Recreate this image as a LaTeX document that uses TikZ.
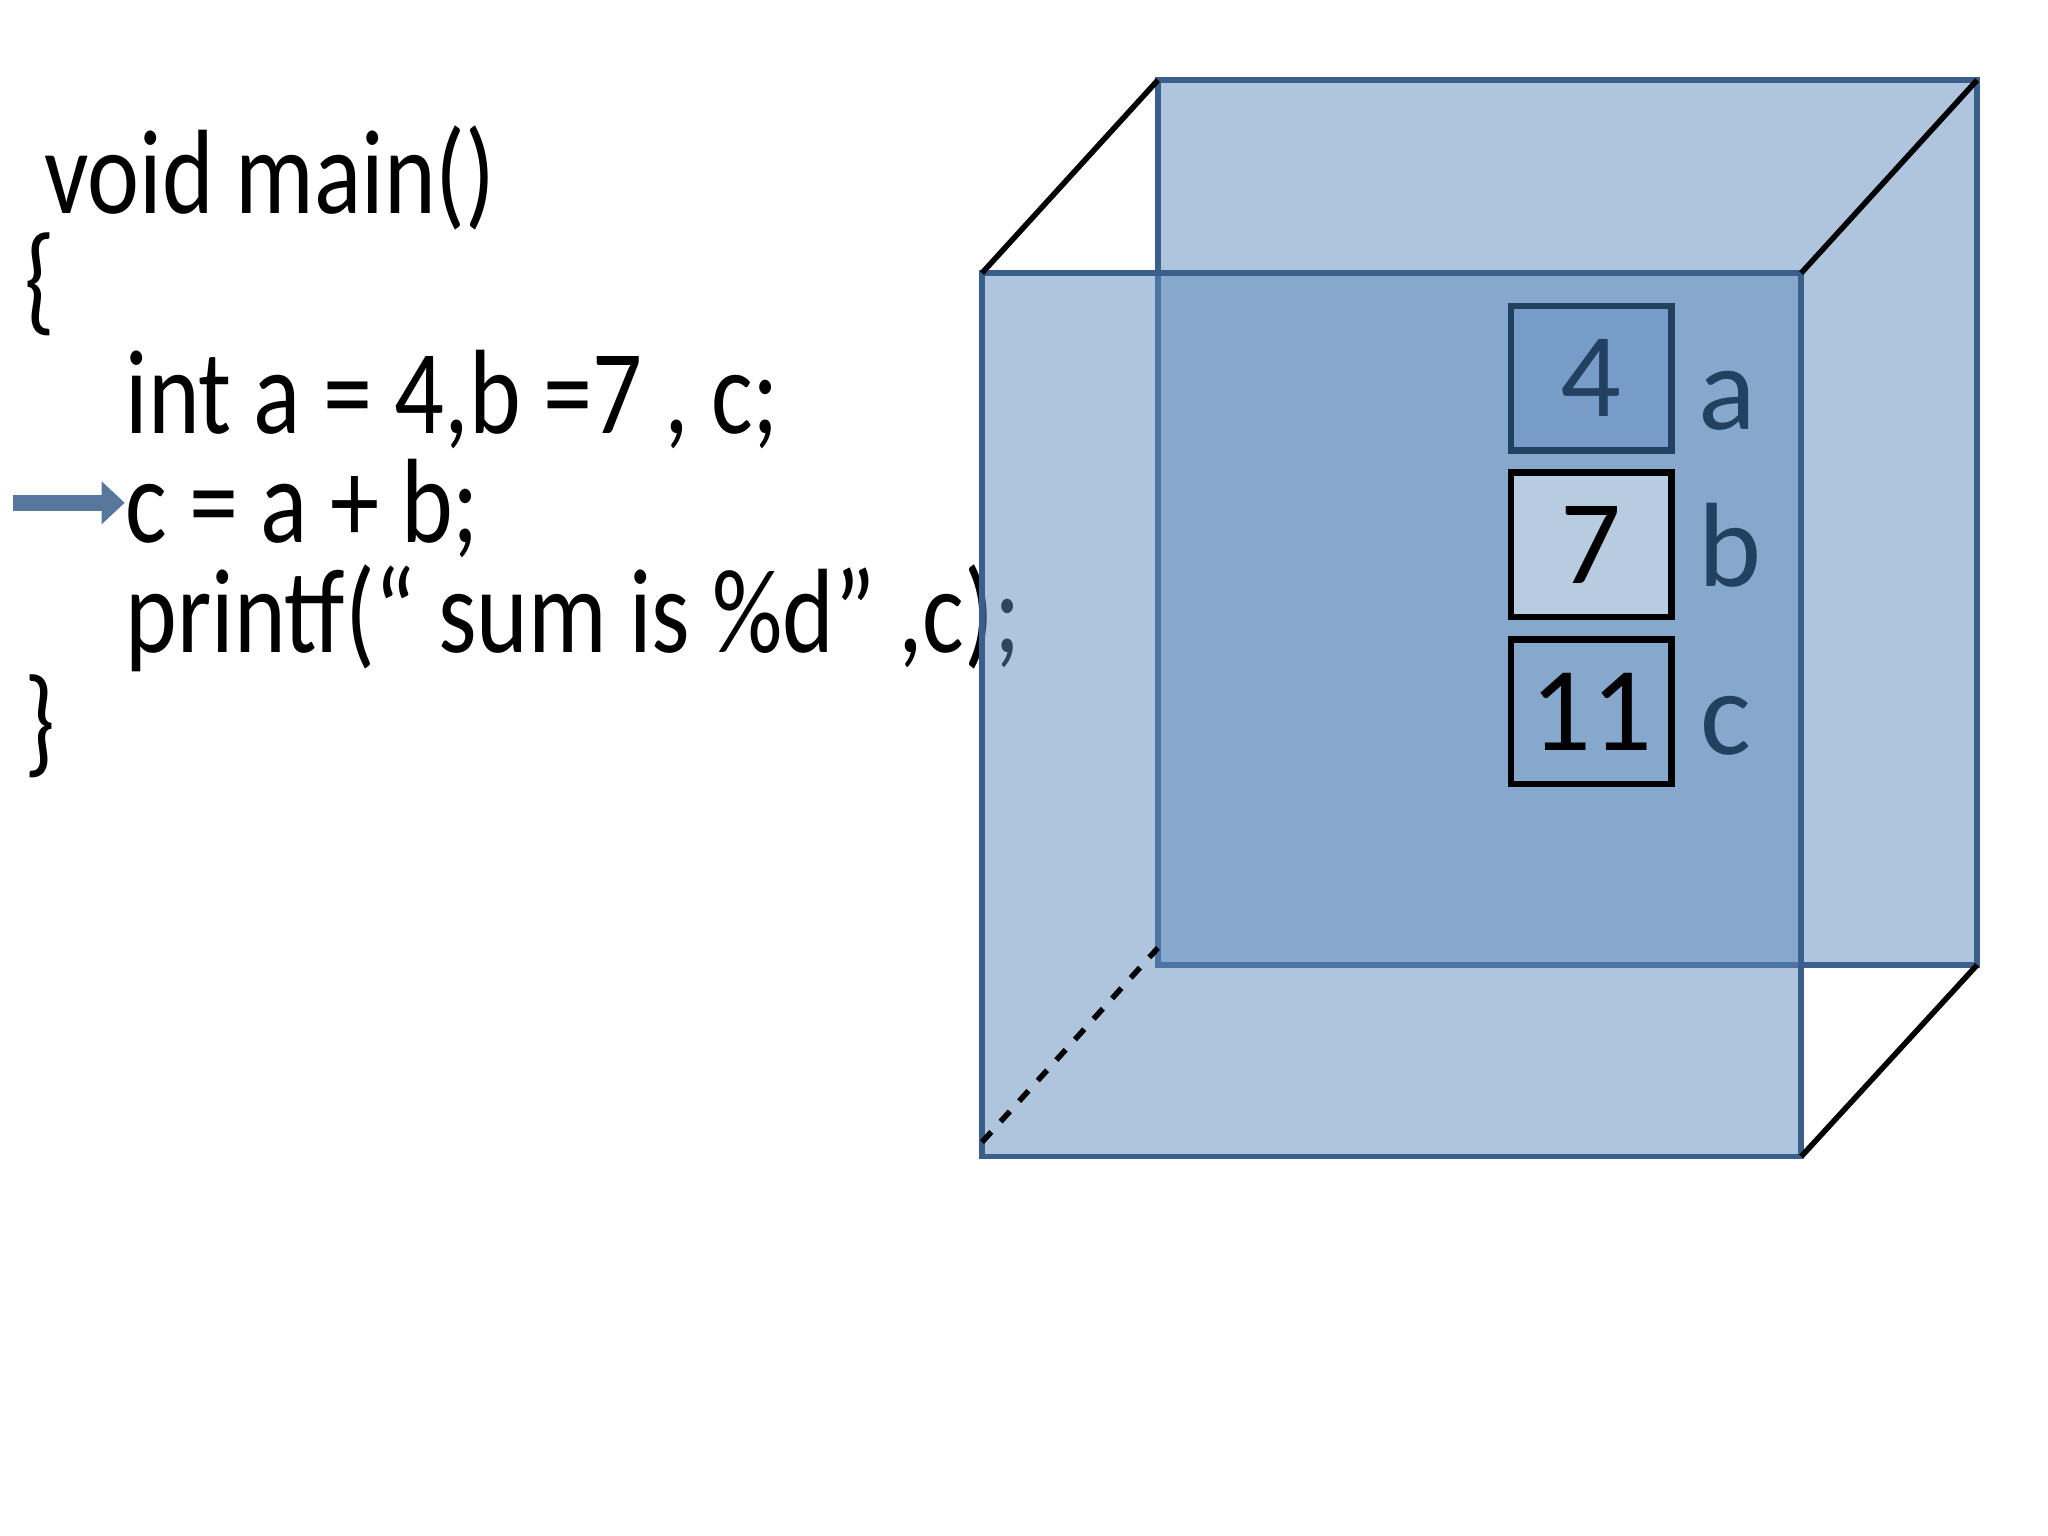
\documentclass[tikz,border=0pt]{standalone}
\usepackage{fontspec}
\setmainfont{Carlito}
\usetikzlibrary{arrows.meta}
\definecolor{boxblue}{HTML}{5F8BBD}
\definecolor{edgeblue}{HTML}{3A5F8A}
\definecolor{inkblue}{HTML}{22405F}

\begin{document}
\begin{tikzpicture}[x=0.01cm, y=-0.01cm,
  code/.style={anchor=base west, inner sep=0pt, xscale=0.82, font=\fontsize{26}{30}\selectfont},
  face/.style={fill=boxblue, fill opacity=0.5, draw=edgeblue, line width=1.2pt},
  cell/.style={draw, line width=1.4pt, minimum width=1.22cm, minimum height=1.1cm, inner sep=0pt, font=\fontsize{26}{30}\selectfont},
  varname/.style={text=inkblue, font=\fontsize{26}{30}\selectfont}]
\useasboundingbox (0,0) rectangle (1560,1170);
% code listing
\node[code] (l1) at (33,163) {void main()};
\node[code] (l2) at (18,243) {\{};
\node[code] (l3) at (95,330) {int a = 4,b =7 , c;};
\node[code] (l4) at (95,413) {c = a + b;};
\node[code] (l5) at (95,497) {printf(“ sum is \%d” ,c);};
\node[code] (l6) at (18,580) {\}};
\coordinate (ptr) at (10,383);
\draw[-{Triangle[length=5pt,width=9pt]}, line width=3.5pt, draw=edgeblue!85!white]
     (ptr) -- (l4.base west |- ptr);
% the cube
\coordinate (fa) at (748,208);  \coordinate (fb) at (1372,208);
\coordinate (fc) at (1372,881); \coordinate (fd) at (748,881);
\coordinate (ba) at (882,61);   \coordinate (bb) at (1506,61);
\coordinate (bc) at (1506,735); \coordinate (bd) at (882,735);
\draw[face] (ba) rectangle (bc);
\draw[face] (fa) rectangle (fc);
\draw[line width=1.2pt] (fa) -- (ba) (fb) -- (bb) (fc) -- (bc);
\draw[line width=1.2pt, dashed] (748,870) -- (882,722);
% memory cells
\node[cell, draw=inkblue, fill=boxblue!85!white, text=inkblue] (ca) at (1212,288) {4};
\node[cell, fill=boxblue!45!white, anchor=north] (cb) at ([yshift=-0.12cm]ca.south) {7};
\node[cell, anchor=north] (cc) at ([yshift=-0.12cm]cb.south) {11};
\node[varname] (na) at (1316,305) {a};
\node[varname] (nb) at (1318,415) {b};
\node[varname] (nc) at (1315,553) {c};
\end{tikzpicture}
\end{document}
